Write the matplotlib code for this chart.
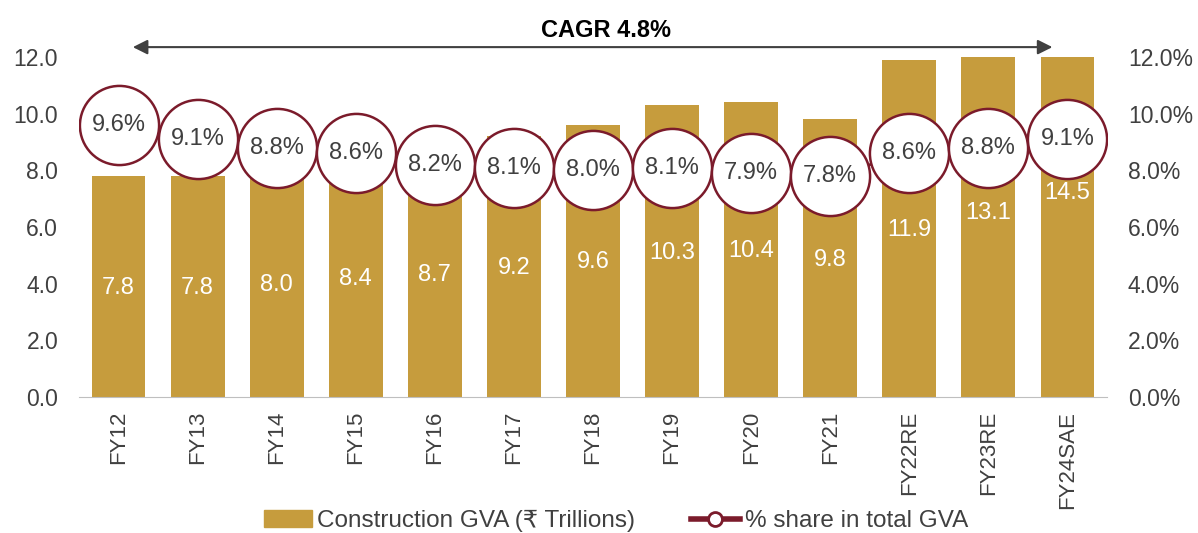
import matplotlib.pyplot as plt
import matplotlib as mpl
import numpy as np

mpl.rcParams.update({
    "font.family": ["Liberation Sans", "DejaVu Sans"],
    "font.size": 17,
    "text.color": "#404040",
    "xtick.color": "#404040",
    "ytick.color": "#404040",
})

years = ["FY12", "FY13", "FY14", "FY15", "FY16", "FY17", "FY18", "FY19",
         "FY20", "FY21", "FY22RE", "FY23RE", "FY24SAE"]
gva = [7.8, 7.8, 8.0, 8.4, 8.7, 9.2, 9.6, 10.3, 10.4, 9.8, 11.9, 13.1, 14.5]
share = [9.6, 9.1, 8.8, 8.6, 8.2, 8.1, 8.0, 8.1, 7.9, 7.8, 8.6, 8.8, 9.1]
cagr_text = "CAGR 4.8%"

bar_color = "#C69C3D"
line_color = "#7B1B2B"
text_color = "#404040"

fig = plt.figure(figsize=(11.98, 5.33), dpi=100)
ax = fig.add_axes([0.066, 0.255, 0.858, 0.638])
ax2 = ax.twinx()

x = np.arange(len(years))
ax.bar(x, gva, width=0.68, color=bar_color)
for xi, v in zip(x, gva):
    ax.text(xi, v / 2 - 0.05, f"{v:.1f}", color="white", ha="center", va="center",
            fontsize=17, zorder=5)

ticks = np.arange(0, 12.1, 2)
ax.set_ylim(0, 12)
ax.set_xlim(-0.5, len(years) - 0.5)
ax.set_yticks(ticks)
ax.set_yticklabels([f"{t:.1f}" for t in ticks])
ax.set_xticks(x)
ax.set_xticklabels(years, rotation=90, fontsize=16)
ax.tick_params(axis="y", length=0, pad=15, labelsize=16.5)
ax.tick_params(axis="x", length=0, pad=10)
for s in ["top", "right", "left"]:
    ax.spines[s].set_visible(False)
ax.spines["bottom"].set_color("#BFBFBF")

ax2.plot(x, share, color=line_color, lw=2, marker="o", markersize=57,
         markerfacecolor="white", markeredgecolor=line_color, markeredgewidth=1.8)
for xi, v in zip(x, share):
    ax2.text(xi, v, f"{v:.1f}%", ha="center", va="center", fontsize=17,
             color=text_color, zorder=6)
ax2.set_ylim(0, 12)
ax2.set_yticks(ticks)
ax2.set_yticklabels([f"{t:.1f}%" for t in ticks])
ax2.tick_params(axis="y", length=0, pad=15, labelsize=16.5)
for s in ["top", "right", "left", "bottom"]:
    ax2.spines[s].set_visible(False)

# CAGR arrow across the years
ax2.annotate("", xy=(11.81, 12.35), xytext=(0.18, 12.35), xycoords="data",
             arrowprops=dict(arrowstyle="<|-|>", color=text_color, lw=1.5,
                             mutation_scale=22, shrinkA=0, shrinkB=0),
             annotation_clip=False)
ax2.text(6.16, 12.95, cagr_text, ha="center", va="center", fontsize=17,
         fontweight="bold", color="black")

legend_handles = [
    mpl.patches.Patch(color=bar_color),
    mpl.lines.Line2D([], [], color=line_color, lw=4, marker="o", markersize=10,
                     markerfacecolor="white", markeredgecolor=line_color,
                     markeredgewidth=2),
]
fig.legend(legend_handles, ["Construction GVA (₹ Trillions)", "% share in total GVA"],
           loc="center", bbox_to_anchor=(0.514, 0.022), ncol=2, frameon=False,
           fontsize=17.5, handlelength=2.0, handletextpad=0.2, columnspacing=2.3)

fig.savefig("out.png", dpi=100)
